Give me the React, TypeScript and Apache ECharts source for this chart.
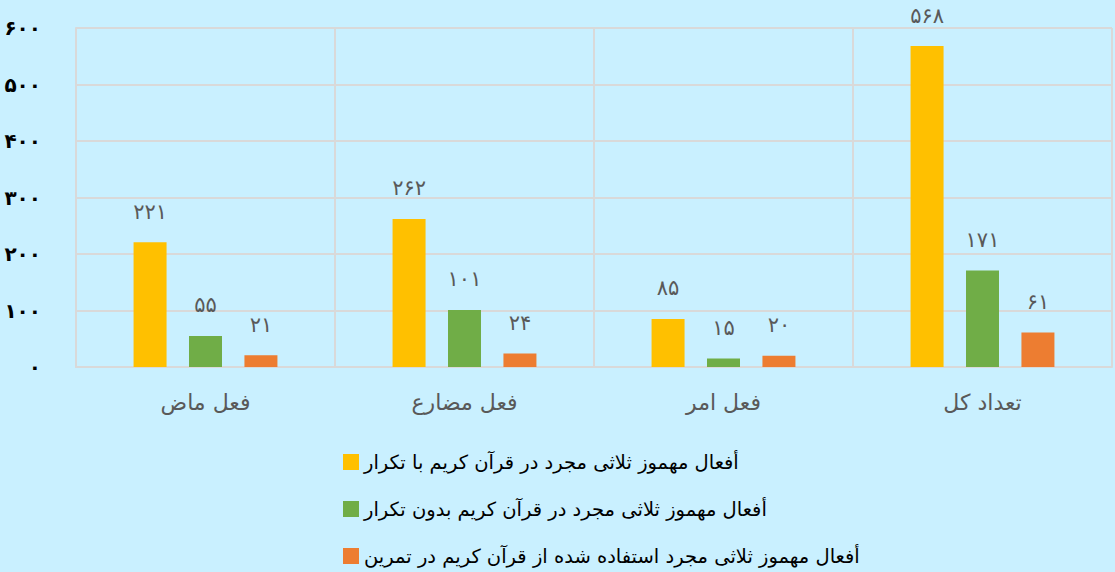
import React, { useEffect, useRef } from "react";
import * as echarts from "echarts";

const categories = ["فعل ماض", "فعل مضارع", "فعل امر", "تعداد کل"];
const seriesNames = [
  "أفعال مهموز ثلاثی مجرد در قرآن کریم با تکرار",
  "أفعال مهموز ثلاثی مجرد در قرآن کریم بدون تکرار",
  "أفعال مهموز ثلاثی مجرد استفاده شده از قرآن کریم در تمرین",
];
const withRepetition = [221, 262, 85, 568];
const withoutRepetition = [55, 101, 15, 171];
const usedInExercise = [21, 24, 20, 61];
const seriesColors = ["#FFC000", "#70AD47", "#ED7D31"];
const yTicks = [0, 100, 200, 300, 400, 500, 600];

const faDigits = "۰۱۲۳۴۵۶۷۸۹";
const toFa = (v: number | string) =>
  String(v).replace(/[0-9]/g, (d) => faDigits[Number(d)]);

const FONT = "DejaVu Sans";

export default function App() {
  const ref = useRef<HTMLDivElement>(null);
  useEffect(() => {
    if (!ref.current) return;
    const chart = echarts.init(ref.current, null, { renderer: "svg" });
    const values = [withRepetition, withoutRepetition, usedInExercise];
    chart.setOption({
      animation: false,
      backgroundColor: "#C9F0FF",
      grid: { left: 76, right: 3, top: 28, bottom: 205, containLabel: false },
      legend: {
        orient: "vertical",
        left: 338,
        top: 447,
        height: 200,
        itemGap: 27,
        itemWidth: 16,
        itemHeight: 16,
        icon: "rect",
        textStyle: { fontFamily: FONT, fontSize: 19.5, color: "#000" },
        data: seriesNames,
      },
      xAxis: {
        type: "category",
        data: categories,
        axisLine: { show: true, lineStyle: { color: "#D9D9D9", width: 2 } },
        axisTick: { show: false },
        splitLine: { show: true, lineStyle: { color: "#D9D9D9", width: 2 } },
        axisLabel: {
          margin: 24,
          fontFamily: FONT,
          fontSize: 22,
          color: "#595959",
        },
      },
      yAxis: {
        type: "value",
        min: yTicks[0],
        max: yTicks[yTicks.length - 1],
        interval: 100,
        axisLine: { show: true, lineStyle: { color: "#D9D9D9", width: 2 } },
        axisTick: { show: false },
        splitLine: { show: true, lineStyle: { color: "#D9D9D9", width: 2 } },
        axisLabel: {
          margin: 35,
          fontFamily: FONT,
          fontSize: 20,
          fontWeight: "bold",
          color: "#000",
          formatter: (v: number) => toFa(v),
        },
      },
      series: values.map((data, i) => ({
        name: seriesNames[i],
        type: "bar",
        data,
        barWidth: 33,
        barGap: "68%",
        itemStyle: { color: seriesColors[i] },
        label: {
          show: true,
          position: "top",
          distance: 20,
          fontFamily: FONT,
          fontSize: 21,
          color: "#595959",
          formatter: (p: any) => toFa(p.value),
        },
      })),
    });
    return () => chart.dispose();
  }, []);
  return (
    <div
      ref={ref}
      style={{ position: "fixed", left: 0, top: 0, width: 1115, height: 572 }}
    />
  );
}
